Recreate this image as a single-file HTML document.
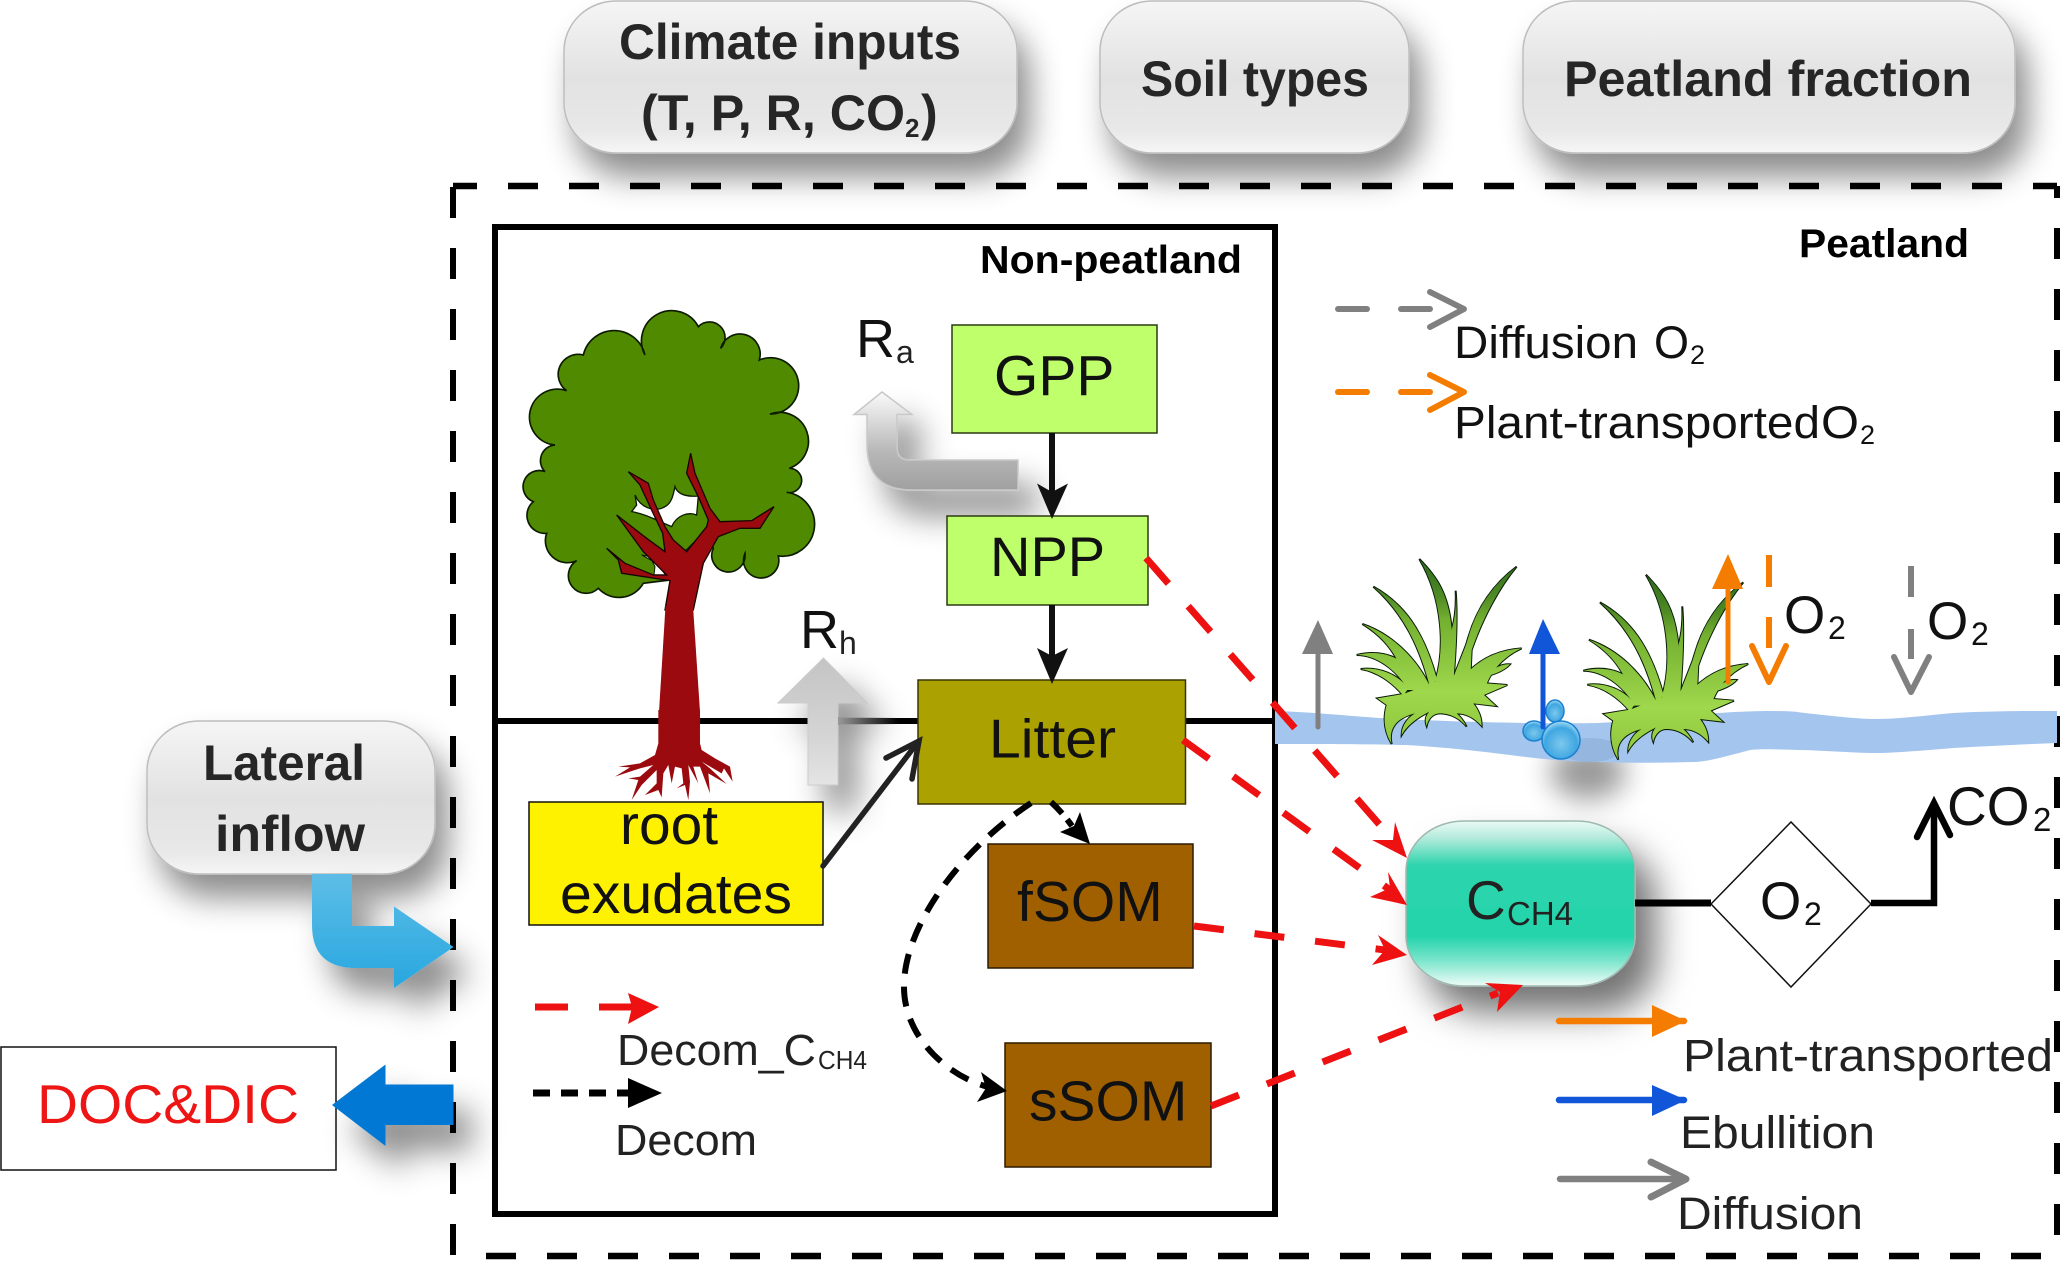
<!DOCTYPE html>
<html><head><meta charset="utf-8"><style>
html,body{margin:0;padding:0;background:#fff}
svg{display:block}
text{font-family:"Liberation Sans",sans-serif}
.b{font-weight:bold;fill:#262626}
.k{fill:#111}
.l{fill:#222}
</style></head><body>
<svg xmlns="http://www.w3.org/2000/svg" width="2067" height="1266" viewBox="0 0 2067 1266">
<defs>
<filter id="s1" x="-30%" y="-40%" width="170%" height="210%"><feDropShadow dx="12" dy="23" stdDeviation="16" flood-color="#000" flood-opacity=".45"/></filter>
<filter id="s2" x="-50%" y="-50%" width="220%" height="220%"><feDropShadow dx="20" dy="26" stdDeviation="18" flood-color="#000" flood-opacity=".55"/></filter>
<filter id="s3" x="-60%" y="-60%" width="240%" height="240%"><feDropShadow dx="18" dy="25" stdDeviation="16" flood-color="#000" flood-opacity=".45"/></filter>
<filter id="bl" x="-100%" y="-100%" width="300%" height="300%"><feGaussianBlur stdDeviation="14"/></filter>
<linearGradient id="gb" x1="0" y1="0" x2="0" y2="1"><stop offset="0" stop-color="#f5f5f5"/><stop offset=".5" stop-color="#e2e2e2"/><stop offset=".85" stop-color="#e8e8e8"/><stop offset="1" stop-color="#f6f6f6"/></linearGradient>
<linearGradient id="gc" x1="0" y1="0" x2="0" y2="1"><stop offset="0" stop-color="#eafaf6"/><stop offset=".1" stop-color="#b6ebdc"/><stop offset=".27" stop-color="#2dd4ad"/><stop offset=".7" stop-color="#25d4ab"/><stop offset=".85" stop-color="#7fe6cd"/><stop offset="1" stop-color="#eefbf8"/></linearGradient>
<linearGradient id="gra" gradientUnits="userSpaceOnUse" x1="0" y1="392" x2="0" y2="490"><stop offset="0" stop-color="#fafafa"/><stop offset=".6" stop-color="#b8b8b8"/><stop offset="1" stop-color="#a0a0a0"/></linearGradient>
<linearGradient id="grh" gradientUnits="userSpaceOnUse" x1="0" y1="658" x2="0" y2="785"><stop offset="0" stop-color="#c4c4c4"/><stop offset=".6" stop-color="#d4d4d4"/><stop offset="1" stop-color="#e4e4e4"/></linearGradient>
<linearGradient id="gbl" gradientUnits="userSpaceOnUse" x1="0" y1="874" x2="0" y2="988"><stop offset="0" stop-color="#5dbde6"/><stop offset="1" stop-color="#27a7e0"/></linearGradient>
<linearGradient id="gg" gradientUnits="userSpaceOnUse" x1="0" y1="27" x2="0" y2="580"><stop offset="0" stop-color="#2d6a1e"/><stop offset=".2" stop-color="#4e8a24"/><stop offset=".33" stop-color="#74b030"/><stop offset=".72" stop-color="#9fd84c"/><stop offset="1" stop-color="#8ec63c"/></linearGradient>
<radialGradient id="gbb" cx=".5" cy=".6" r=".6"><stop offset="0" stop-color="#7cc8ee"/><stop offset=".7" stop-color="#3fa6e0"/><stop offset="1" stop-color="#a8def5"/></radialGradient>
<linearGradient id="fade" x1="0" x2="1" y1="0" y2="0"><stop offset="0" stop-color="#999"/><stop offset="1" stop-color="#999" stop-opacity="0"/></linearGradient>
<g id="gshape">
<path d="M238,27C290,80 325,130 335,235L340,395L285,395C315,300 310,150 238,27Z"/>
<path d="M335,240Q350,190 347,122Q355,220 340,395L310,395Z"/>
<path d="M530,50C470,95 415,160 385,262L378,285L335,395L392,365L395,300C430,200 480,110 530,50Z"/>
<path d="M100,110C190,160 250,240 290,385L272,420C240,290 190,190 100,110Z"/>
<path d="M67,222C150,250 230,320 275,420L200,420C185,320 130,260 67,222Z"/>
<path d="M50,315C110,300 160,315 190,340L205,420C170,360 110,315 50,315Z"/>
<path d="M62,357C120,350 175,375 205,415L190,437C155,395 110,365 62,357Z"/>
<path d="M545,295C470,300 420,330 385,365L430,440C440,370 490,320 545,295Z"/>
<path d="M440,372Q480,340 510,343Q490,365 442,378Z"/>
<path d="M190,432L112,445L140,465C130,500 130,540 155,582C145,540 165,505 225,490C200,505 185,530 185,555C205,520 240,500 268,485C255,500 255,515 260,528C265,505 280,490 300,490C330,490 360,505 380,530C370,510 360,500 350,490C380,490 405,505 425,528C425,500 415,480 400,460L468,468L432,435L502,405L440,400L445,375L385,360L300,390Z"/>
</g>
<g id="grass" transform="translate(1340,550) scale(.3333)">
<use href="#gshape" fill="#000" stroke="#0a1a06" stroke-width="6" stroke-linejoin="miter"/>
<use href="#gshape" fill="url(#gg)"/>
</g>
</defs>

<!-- top boxes -->
<rect x="564" y="1" width="453" height="152" rx="52" ry="50" fill="url(#gb)" stroke="#bdbdbd" stroke-width="1.5" filter="url(#s1)"/>
<rect x="1100" y="1" width="309" height="152" rx="52" ry="50" fill="url(#gb)" stroke="#bdbdbd" stroke-width="1.5" filter="url(#s1)"/>
<rect x="1523" y="1" width="492" height="152" rx="52" ry="50" fill="url(#gb)" stroke="#bdbdbd" stroke-width="1.5" filter="url(#s1)"/>
<text class="b" x="619" y="59" font-size="50" textLength="342" lengthAdjust="spacingAndGlyphs">Climate inputs</text>
<text class="b" x="641" y="130" font-size="50" textLength="264" lengthAdjust="spacingAndGlyphs">(T, P, R, CO</text>
<text class="b" x="905" y="137" font-size="26">2</text>
<text class="b" x="921" y="130" font-size="50">)</text>
<text class="b" x="1141" y="96" font-size="50" textLength="228" lengthAdjust="spacingAndGlyphs">Soil types</text>
<text class="b" x="1564" y="96" font-size="50" textLength="408" lengthAdjust="spacingAndGlyphs">Peatland fraction</text>

<!-- outer dashed -->
<g stroke="#000" fill="none">
<line x1="453" y1="186" x2="2057" y2="186" stroke-width="6.5" stroke-dasharray="30 31" stroke-dashoffset="6"/>
<line x1="453" y1="187" x2="453" y2="1255" stroke-width="6" stroke-dasharray="31 30"/>
<line x1="2057" y1="186" x2="2057" y2="1255" stroke-width="6" stroke-dasharray="31 30" stroke-dashoffset="19"/>
<line x1="486" y1="1256" x2="2057" y2="1256" stroke-width="6.5" stroke-dasharray="30 31"/>
</g>

<!-- inner box -->
<rect x="495" y="227" width="780" height="987" fill="#fff" stroke="#000" stroke-width="6"/>
<line x1="495" y1="721" x2="1275" y2="721" stroke="#000" stroke-width="6"/>
<text x="980" y="273" font-size="39" font-weight="bold" fill="#000" textLength="262" lengthAdjust="spacingAndGlyphs">Non-peatland</text>
<text x="1799" y="257" font-size="40" font-weight="bold" fill="#000" textLength="170" lengthAdjust="spacingAndGlyphs">Peatland</text>

<!-- tree -->
<g transform="translate(510,300) scale(.3333)">
<path d="M405,165A90,90 0 0 1 565,80A46,46 0 0 1 632,145A60,60 0 0 1 748,180A84.5,84.5 0 1 1 780,342A86,86 0 0 1 838,505A36.5,36.5 0 1 1 830,577A96,96 0 0 1 805,768A53,53 0 1 1 705,760A50,50 0 1 1 610,745L590,690L530,750L470,760L480,840L400,850A84,84 0 0 1 265,865A53,53 0 1 1 200,782A66,66 0 0 1 110,700A54,54 0 0 1 70,605A48,48 0 1 1 105,515A47,47 0 0 1 135,435A84,84 0 1 1 170,272A60,60 0 0 1 220,165A95,95 0 0 1 405,165Z" fill="#4f8a00" stroke="#0c1a00" stroke-width="5" stroke-linejoin="miter"/>
<path d="M495,560C505,590 545,590 565,588L560,645C535,635 500,645 485,680L450,665C420,650 395,640 365,635L380,615L375,585C390,620 430,640 465,620C485,610 490,585 495,560Z" fill="#fff" stroke="#0c1a00" stroke-width="4"/>
<path d="M395,765L420,770L435,800L432,825L480,842L440,790Z" fill="#fff" stroke="#0c1a00" stroke-width="3"/>
<polygon points="465,930 480,842 335,820 325,780 290,745 345,790 430,825 470,825 400,755 320,645 410,715 465,755 458,700 420,620 390,555 355,515 415,550 430,600 465,680 490,720 530,755 590,680 595,660 565,590 530,520 542,460 555,520 600,625 630,665 725,662 792,620 750,685 690,685 625,710 580,790 550,930" fill="#9b0a0e" stroke="#180404" stroke-width="4"/>
</g>
<polygon points="665.5,606 693,606 700,712 659,712" fill="#9b0a0e"/>
<g transform="translate(600,710) scale(.3333)">
<polygon points="175,0 175,100 165,135 120,160 55,170 90,172 45,200 120,175 160,165 120,200 85,205 115,210 95,270 125,225 170,180 170,220 135,255 175,240 185,262 190,190 205,165 215,220 225,170 245,175 250,220 230,235 255,225 265,270 270,215 265,165 295,220 280,170 300,170 330,250 325,190 380,222 330,175 305,155 365,190 372,175 398,215 390,170 345,145 305,120 300,100 300,0" fill="#9b0a0e"/>
</g>

<!-- Ra arrow -->
<path d="M882,392L912,414.5H897V448Q897,460 909,460H1018V490H912Q867,490 867,445V414.5H854Z" fill="url(#gra)" stroke="#c8c8c8" stroke-width="1.5" filter="url(#s3)"/>

<!-- GPP NPP Litter -->
<rect x="952" y="325" width="205" height="108" fill="#bfff6b" stroke="#2a3a10" stroke-width="1.5"/>
<text class="k" x="994" y="395" font-size="57">GPP</text>
<rect x="947" y="516" width="201" height="89" fill="#bfff6b" stroke="#2a3a10" stroke-width="1.5"/>
<text class="k" x="990" y="576" font-size="56">NPP</text>

<!-- Rh arrow -->
<polygon points="823.5,658 868,703 838,703 838,785 808,785 808,703 778,703" fill="url(#grh)" stroke="#ccc" stroke-width="1" filter="url(#s3)"/>
<rect x="838" y="717" width="60" height="8" fill="url(#fade)"/>

<rect x="918" y="680" width="267.5" height="124" fill="#aba100" stroke="#3a3500" stroke-width="1.5"/>
<text class="k" x="989" y="757.5" font-size="55" textLength="127" lengthAdjust="spacingAndGlyphs">Litter</text>

<!-- Ra/Rh text -->
<text class="k" x="856" y="357" font-size="54">R</text><text class="l" x="896" y="363" font-size="32">a</text>
<text class="k" x="800" y="648" font-size="54">R</text><text class="l" x="839" y="654" font-size="32">h</text>

<!-- black arrows -->
<g stroke="#111" stroke-width="6" fill="none">
<line x1="1052" y1="433" x2="1052" y2="495"/>
<line x1="1052" y1="605" x2="1052" y2="660"/>
</g>
<polygon points="1052,519 1037,483.5 1052,492 1068,483.5" fill="#111"/>
<polygon points="1052,684 1037,648 1052,656 1068,648" fill="#111"/>

<!-- root exudates -->
<rect x="529" y="802" width="294" height="123" fill="#fff200" stroke="#111" stroke-width="1.5"/>
<text class="k" x="620" y="844" font-size="56" textLength="98" lengthAdjust="spacingAndGlyphs">root</text>
<text class="k" x="560" y="913" font-size="56" textLength="232" lengthAdjust="spacingAndGlyphs">exudates</text>
<g stroke="#222" stroke-width="5.5" fill="none" stroke-linecap="round">
<line x1="823" y1="866" x2="918" y2="742"/>
<polyline points="886,758 919,741 912,779"/>
</g>

<!-- SOM -->
<rect x="988" y="844" width="205" height="124" fill="#a06000" stroke="#2b1a00" stroke-width="1.5"/>
<text class="k" x="1017" y="921" font-size="57">fSOM</text>
<rect x="1005" y="1043" width="206" height="124" fill="#a06000" stroke="#2b1a00" stroke-width="1.5"/>
<text class="k" x="1029" y="1120.5" font-size="57">sSOM</text>

<!-- decom -->
<path d="M1031,803C960,850 905,925 904,985C903,1035 945,1075 988,1087" fill="none" stroke="#000" stroke-width="6" stroke-dasharray="20 13"/>
<path d="M1051,802Q1062,812 1072,826" fill="none" stroke="#000" stroke-width="6" stroke-dasharray="16 8"/>
<polygon points="1090,844 1060,832 1074,826 1080,812" fill="#000"/>
<polygon points="1007,1091 981,1072 986,1088 977,1102" fill="#000"/>

<!-- legend left -->
<g stroke="#ee1111" stroke-width="7" fill="none"><line x1="535" y1="1007" x2="568" y2="1007"/><line x1="599" y1="1007" x2="632" y2="1007"/></g>
<polygon points="659,1007 628,993 632,1007 628,1024" fill="#ee1111"/>
<text class="l" x="617" y="1065" font-size="44" textLength="199" lengthAdjust="spacingAndGlyphs">Decom_C</text>
<text class="l" x="818" y="1069" font-size="26" textLength="49" lengthAdjust="spacingAndGlyphs">CH4</text>
<line x1="533" y1="1093" x2="630" y2="1093" stroke="#000" stroke-width="7" stroke-dasharray="17 11"/>
<polygon points="662,1093 628,1078 628,1108" fill="#000"/>
<text class="l" x="615" y="1155" font-size="44" textLength="142" lengthAdjust="spacingAndGlyphs">Decom</text>

<!-- lateral -->
<rect x="147" y="721" width="288" height="153" rx="52" ry="50" fill="url(#gb)" stroke="#bdbdbd" stroke-width="1.5" filter="url(#s1)"/>
<text class="b" x="203" y="780" font-size="50" textLength="162" lengthAdjust="spacingAndGlyphs">Lateral</text>
<text class="b" x="215" y="851" font-size="50" textLength="150" lengthAdjust="spacingAndGlyphs">inflow</text>
<path d="M312,874H352V926H394V906.5L453.5,947L394,988V968H356Q312,968 312,925Z" fill="url(#gbl)" filter="url(#s3)"/>

<!-- DOC -->
<rect x="1" y="1047" width="335" height="123" fill="#fff" stroke="#111" stroke-width="1.5"/>
<text x="37" y="1123" font-size="55" fill="#ee1515" textLength="262" lengthAdjust="spacingAndGlyphs">DOC&amp;DIC</text>
<polygon points="332,1105 385.5,1064.5 385.5,1084.5 453.5,1084.5 453.5,1125 385.5,1125 385.5,1146" fill="#0078d4" filter="url(#s3)"/>

<!-- legend top right -->
<g fill="none" stroke-linecap="round" stroke-linejoin="round" stroke-width="6">
<g stroke="#808080"><line x1="1338" y1="309" x2="1367" y2="309"/><line x1="1401" y1="309" x2="1430" y2="309"/><polyline points="1430,292 1464,309 1430,327"/></g>
<g stroke="#f47c00"><line x1="1338" y1="392" x2="1367" y2="392"/><line x1="1401" y1="392" x2="1430" y2="392"/><polyline points="1430,375 1464,392 1430,410"/></g>
</g>
<text class="k" x="1454" y="358" font-size="45" textLength="184" lengthAdjust="spacingAndGlyphs">Diffusion</text>
<text class="k" x="1654" y="358" font-size="45" textLength="35" lengthAdjust="spacingAndGlyphs">O</text>
<text class="k" x="1690" y="364" font-size="27">2</text>
<text class="k" x="1454" y="438" font-size="45" textLength="366" lengthAdjust="spacingAndGlyphs">Plant-transported</text>
<text class="k" x="1821" y="438" font-size="45" textLength="38" lengthAdjust="spacingAndGlyphs">O</text>
<text class="k" x="1860" y="444" font-size="27">2</text>

<!-- water -->
<ellipse cx="1588" cy="772" rx="38" ry="28" fill="#000" opacity=".4" filter="url(#bl)"/>
<path d="M1275,711C1310,712 1350,716 1380,718C1450,722 1540,724 1599,723C1650,720 1690,714 1719,713C1760,710 1790,711 1797,712C1830,716 1860,719 1875,719C1900,719 1930,715 1953,713C1990,711 2030,711 2057,711V743C2030,744 1990,746 1953,748C1920,751 1890,753 1875,753C1850,753 1820,750 1797,750C1770,749 1760,749 1750,750C1720,758 1705,762 1693,762C1660,763 1630,763 1599,762C1570,762 1540,759 1510,755C1470,750 1440,747 1406,745C1360,744 1310,744 1275,744Z" fill="#a4c6ee"/>
<ellipse cx="1590" cy="750" rx="30" ry="12" fill="#2a4a70" opacity=".12"/>

<!-- grass -->
<use href="#grass"/>
<use href="#grass" transform="translate(226.6,15.7)"/>

<!-- bubbles -->
<g fill="url(#gbb)" stroke="#1a80d0" stroke-width="1.5">
<ellipse cx="1555" cy="711" rx="9" ry="11"/><ellipse cx="1534" cy="731" rx="11" ry="10"/><ellipse cx="1561" cy="740" rx="19" ry="19"/>
</g>

<!-- vertical arrows -->
<line x1="1318" y1="640" x2="1318" y2="727" stroke="#808080" stroke-width="5" stroke-linecap="round"/>
<polygon points="1318,620 1333,654 1302,654" fill="#808080"/>
<line x1="1543" y1="640" x2="1543" y2="727" stroke="#1155d8" stroke-width="5" stroke-linecap="round"/>
<polygon points="1543,619 1560,654 1529,654" fill="#1155d8"/>
<line x1="1728" y1="575" x2="1728" y2="682" stroke="#f47c00" stroke-width="5" stroke-linecap="round"/>
<polygon points="1728,554 1743,589 1712,589" fill="#f47c00"/>
<g fill="none" stroke-width="6" stroke-linecap="round" stroke-linejoin="round">
<g stroke="#f47c00"><line x1="1769" y1="555" x2="1769" y2="587" stroke-linecap="butt"/><line x1="1769" y1="617" x2="1769" y2="648" stroke-linecap="butt"/><polyline points="1752,646 1769,682 1786,646"/></g>
<g stroke="#808080"><line x1="1911" y1="566" x2="1911" y2="597" stroke-linecap="butt"/><line x1="1911" y1="629" x2="1911" y2="659" stroke-linecap="butt"/><polyline points="1894,657 1911,692 1929,657"/></g>
</g>
<text class="k" x="1784" y="633" font-size="53">O</text><text class="k" x="1828" y="639" font-size="32">2</text>
<text class="k" x="1927" y="639" font-size="53">O</text><text class="k" x="1971" y="645" font-size="32">2</text>

<!-- CCH4 -->
<rect x="1406" y="821" width="229" height="165" rx="58" ry="50" fill="url(#gc)" stroke="#9fb8b0" stroke-width="1.5" filter="url(#s2)"/>
<text class="l" x="1466" y="919" font-size="55">C</text>
<text class="l" x="1507" y="925" font-size="33">CH4</text>

<!-- red dashed -->
<g stroke="#ee1111" stroke-width="7" fill="none">
<line x1="1146" y1="558" x2="1393" y2="840" stroke-dasharray="34 30"/>
<path d="M1183,740L1390,890" stroke-dasharray="32 30"/>
<line x1="1194" y1="926" x2="1385" y2="950" stroke-dasharray="30 31"/>
<line x1="1211" y1="1106" x2="1498" y2="993" stroke-dasharray="30 30"/>
</g>
<g fill="#ee1111">
<polygon points="1407,858 1395,822 1393,840 1372,840"/>
<polygon points="1407,905 1388,872 1390,888 1370,897"/>
<polygon points="1407,955 1378,935 1385,950 1372,965"/>
<polygon points="1523,985 1485,983 1500,992 1497,1012"/>
</g>

<!-- O2 diamond -->
<line x1="1635" y1="903" x2="1711" y2="903" stroke="#000" stroke-width="7"/>
<polygon points="1711,904 1791,822 1871,904 1791,987" fill="#fff" stroke="#111" stroke-width="1.5"/>
<text class="k" x="1760" y="919" font-size="53">O</text><text class="k" x="1804" y="925" font-size="32">2</text>
<g fill="none" stroke="#000" stroke-width="6.5">
<polyline points="1871,903 1934,903 1934,805"/>
<polyline points="1917,837 1934,803 1950,835" stroke-linecap="round"/>
</g>
<text class="k" x="1947" y="825" font-size="55">CO</text><text class="k" x="2033" y="831" font-size="33">2</text>

<!-- legend bottom right -->
<g stroke-width="6.5" stroke-linecap="round">
<line x1="1559" y1="1021" x2="1684" y2="1021" stroke="#f47c00"/>
<line x1="1559" y1="1100" x2="1684" y2="1100" stroke="#1155d8"/>
<line x1="1560" y1="1179" x2="1684" y2="1179" stroke="#808080"/>
</g>
<polygon points="1686,1021 1652,1005 1652,1037" fill="#f47c00"/>
<polygon points="1686,1100 1652,1085 1652,1116" fill="#1155d8"/>
<polyline points="1651,1162 1686,1179 1651,1197" fill="none" stroke="#808080" stroke-width="7" stroke-linecap="round" stroke-linejoin="round"/>
<text class="l" x="1683" y="1071" font-size="45" textLength="370" lengthAdjust="spacingAndGlyphs">Plant-transported</text>
<text class="l" x="1680" y="1148" font-size="45" textLength="195" lengthAdjust="spacingAndGlyphs">Ebullition</text>
<text class="l" x="1677" y="1229" font-size="45" textLength="186" lengthAdjust="spacingAndGlyphs">Diffusion</text>
</svg>
</body></html>
